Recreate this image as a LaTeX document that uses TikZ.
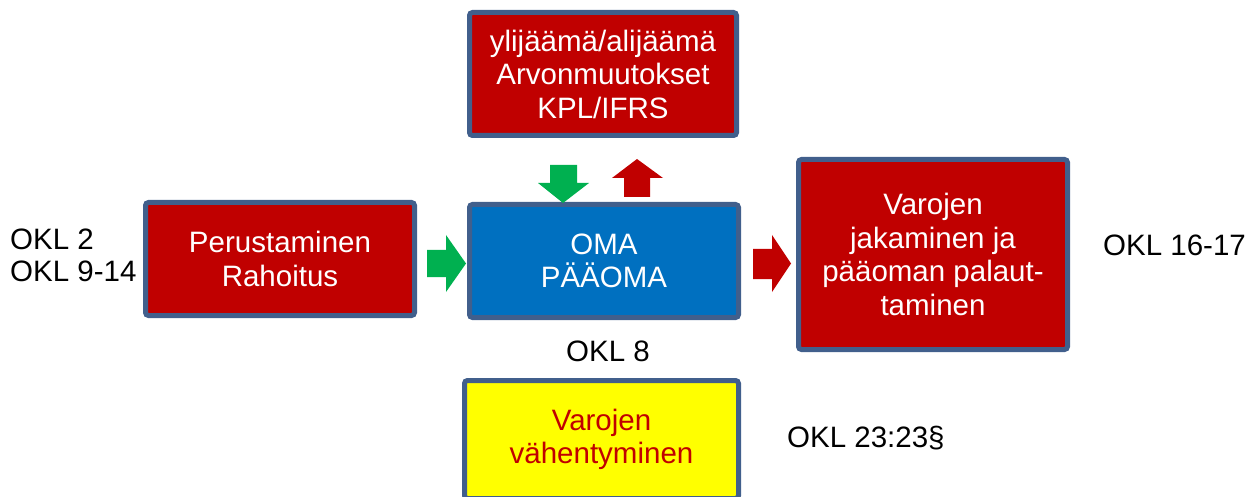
\documentclass[tikz,border=0pt]{standalone}
\usepackage{fontspec}
\setmainfont{Liberation Sans}
\definecolor{boxred}{RGB}{192,0,0}
\definecolor{boxblue}{RGB}{0,112,192}
\definecolor{boxborder}{RGB}{65,95,140}
\definecolor{arrgreen}{RGB}{0,176,80}
\definecolor{boxyellow}{RGB}{255,255,0}
\begin{document}
\begin{tikzpicture}[x=1pt,y=-1pt,
  blk/.style={draw=boxborder, line width=5pt, rounded corners=3pt, align=center,
    text=white, font=\fontsize{29.5}{33.5}\selectfont, inner sep=0pt},
  lbl/.style={font=\fontsize{29.5}{32}\selectfont, align=left, inner sep=0pt},
  garrow/.style={fill=arrgreen, draw=none},
  rarrow/.style={fill=boxred, draw=none}]
\useasboundingbox (0,0) rectangle (1253,497);
\node[blk, fill=boxred, minimum width=267pt, minimum height=123pt] (top) at (603,74)
  {ylijäämä/alijäämä\\Arvonmuutokset\\KPL/IFRS};
\node[blk, fill=boxred, minimum width=269pt, minimum height=113pt] (perus) at (280,259)
  {Perustaminen\\Rahoitus};
\node[blk, fill=boxblue, minimum width=269pt, minimum height=113pt] (oma) at (604,261)
  {OMA\\PÄÄOMA};
\node[blk, fill=boxred, minimum width=269pt, minimum height=190pt] (varo) at (933,254.5)
  {Varojen\\jakaminen ja\\pääoman palaut-\\taminen};
\node[blk, fill=boxyellow, text=boxred, minimum width=274pt, minimum height=118pt] (vah) at (601.5,439.5)
  {Varojen\\vähentyminen};
\node[lbl, anchor=west] (okl2) at (10,255) {OKL 2\\OKL 9-14};
\node[lbl, anchor=west] (okl16) at (1103,245) {OKL 16-17};
\node[lbl] (okl8) at (608,351) {OKL 8};
\node[lbl, anchor=west] (okl23) at (787,438) {OKL 23:23§};
% block arrows
\fill[garrow] (550,165) -- (577,165) -- (577,183) -- (589,183) -- (563,203) -- (538,183) -- (550,183) -- cycle;
\fill[rarrow] (624,197) -- (650,197) -- (650,178) -- (663,178) -- (637,159) -- (612,178) -- (624,178) -- cycle;
\fill[garrow] (427,250) -- (446,250) -- (446,235) -- (466,263.5) -- (446,292) -- (446,277) -- (427,277) -- cycle;
\fill[rarrow] (753,249) -- (772,249) -- (772,235) -- (791,263.5) -- (772,292) -- (772,279) -- (753,279) -- cycle;
\end{tikzpicture}
\end{document}
